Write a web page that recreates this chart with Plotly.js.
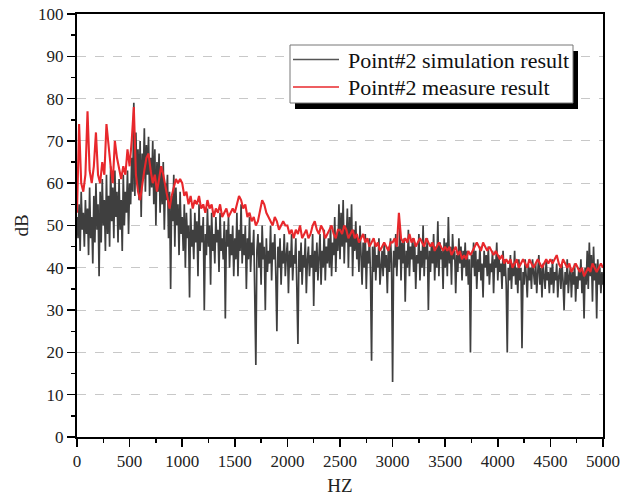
<!DOCTYPE html>
<html>
<head>
<meta charset="utf-8">
<script src="https://cdn.plot.ly/plotly-3.0.1.min.js"></script>
<style>html,body{margin:0;padding:0;background:#fff;}#chart{width:620px;height:504px;}</style>
</head>
<body>
<div id="chart"></div>
<script>
// Frequency step of the digitised samples (Hz)
const simStep = 10;
const measStep = 20;

// Point#2 simulation result (dB), 0..5000 Hz every 10 Hz
const simulation = [
  52, 47, 55, 44, 58, 49, 53, 45, 56, 48,
  54, 43, 59, 47, 52, 41, 57, 46, 60, 49,
  55, 38, 58, 46, 61, 50, 56, 44, 62, 48,
  57, 45, 64, 51, 59, 47, 63, 52, 58, 46,
  61, 49, 56, 44, 62, 50, 58, 53, 63, 48,
  60, 55, 66, 58, 79, 57, 72, 60, 68, 56,
  70, 52, 67, 61, 73, 58, 69, 62, 71, 57,
  66, 59, 70, 55, 68, 50, 65, 58, 67, 53,
  63, 55, 65, 49, 60, 56, 62, 47, 58, 35,
  57, 51, 62, 45, 59, 50, 55, 43, 58, 48,
  52, 44, 55, 40, 53, 47, 50, 33, 54, 45,
  49, 42, 53, 46, 51, 38, 55, 44, 50, 46,
  52, 30, 48, 43, 54, 45, 50, 36, 53, 44,
  48, 41, 52, 46, 49, 39, 53, 44, 47, 42,
  51, 28, 49, 45, 52, 40, 48, 43, 50, 38,
  47, 42, 53, 38, 49, 44, 55, 41, 48, 43,
  50, 35, 47, 42, 52, 39, 46, 43, 49, 33,
  17, 44, 48, 40, 46, 36, 50, 42, 45, 30,
  47, 39, 44, 41, 50, 37, 46, 42, 48, 38,
  25, 45, 40, 47, 36, 44, 41, 48, 38, 43,
  46, 34, 44, 40, 48, 37, 43, 41, 47, 35,
  22, 44, 39, 46, 36, 43, 40, 47, 34, 42,
  45, 38, 43, 40, 48, 31, 44, 39, 46, 37,
  42, 48, 36, 44, 40, 49, 37, 45, 41, 47,
  40, 50, 38, 46, 43, 52, 39, 48, 44, 55,
  42, 53, 45, 56, 41, 50, 46, 54, 40, 52,
  45, 55, 38, 49, 44, 51, 42, 47, 39, 50,
  43, 36, 46, 40, 48, 35, 44, 41, 47, 38,
  18, 45, 39, 46, 37, 43, 40, 47, 36, 42,
  44, 38, 46, 40, 43, 34, 45, 39, 47, 41,
  13, 44, 40, 48, 38, 45, 42, 50, 37, 46,
  41, 47, 32, 44, 40, 49, 38, 45, 42, 47,
  39, 46, 35, 43, 41, 48, 37, 44, 40, 50,
  38, 45, 42, 47, 30, 44, 39, 46, 41, 48,
  37, 45, 40, 51, 38, 46, 42, 44, 35, 47,
  40, 46, 38, 52, 41, 45, 36, 48, 42, 44,
  34, 43, 39, 47, 41, 45, 37, 44, 40, 46,
  38, 44, 36, 42, 20, 43, 40, 46, 38, 44,
  35, 42, 39, 45, 37, 41, 33, 44, 40, 43,
  38, 45, 36, 41, 39, 44, 34, 42, 40, 46,
  37, 43, 39, 41, 35, 44, 38, 42, 36, 20,
  40, 37, 43, 35, 41, 38, 44, 36, 40, 34,
  42, 37, 40, 21, 39, 36, 42, 38, 33, 41,
  37, 40, 35, 42, 38, 36, 41, 34, 39, 43,
  36, 40, 33, 41, 38, 35, 42, 37, 39, 34,
  40, 36, 42, 34, 39, 37, 41, 33, 38, 40,
  35, 41, 37, 30, 39, 36, 42, 34, 38, 40,
  33, 39, 36, 41, 32, 38, 35, 40, 37, 42,
  34, 39, 28, 40, 36, 44, 35, 46, 38, 43,
  32, 45, 37, 41, 28, 42, 36, 40, 34, 39,
  36
];

// Point#2 measure result (dB), 0..5000 Hz every 20 Hz
const measure = [
  53, 74, 60, 58, 62, 77, 63, 60, 64, 72, 62, 60, 65, 62, 74, 68, 64, 60, 70, 66, 63, 61, 64, 62, 68,
  64, 70, 78, 62, 58, 56, 60, 63, 66, 67, 63, 60, 62, 58, 61, 64, 62, 59, 56, 54, 57, 59, 61, 60, 61,
  60, 57, 58, 55, 57, 54, 56, 55, 57, 54, 55, 53, 56, 54, 55, 52, 54, 53, 55, 52, 53, 54, 52, 53, 54,
  53, 55, 57, 56, 54, 55, 52, 53, 51, 52, 50, 51, 54, 56, 55, 53, 52, 51, 50, 52, 51, 49, 50, 51, 50,
  50, 48, 49, 47, 49, 48, 50, 47, 48, 49, 47, 48, 50, 51, 49, 48, 50, 49, 47, 48, 49, 50, 48, 47, 49,
  49, 48, 50, 49, 47, 48, 49, 47, 48, 46, 47, 48, 46, 47, 45, 46, 47, 45, 46, 44, 45, 46, 45, 44, 46,
  46, 47, 45, 53, 47, 46, 47, 46, 48, 46, 47, 45, 46, 47, 46, 45, 47, 46, 45, 46, 44, 45, 46, 45, 44,
  45, 44, 45, 43, 44, 45, 43, 44, 42, 43, 42, 44, 43, 44, 45, 46, 45, 44, 46, 45, 44, 45, 44, 43, 44,
  43, 42, 43, 41, 42, 41, 42, 40, 41, 42, 40, 41, 42, 41, 40, 42, 41, 40, 41, 42, 41, 40, 41, 42, 41,
  42, 41, 42, 43, 41, 40, 42, 41, 40, 41, 39, 40, 41, 40, 39, 40, 38, 39, 40, 39, 41, 40, 39, 40, 41,
  40
];

const seriesNames = ['Point#2 simulation result', 'Point#2 measure result'];
const seriesColors = ['#3f3f3f', '#e8282c'];
const xTickValues = [0, 500, 1000, 1500, 2000, 2500, 3000, 3500, 4000, 4500, 5000];
const yTickValues = [0, 10, 20, 30, 40, 50, 60, 70, 80, 90, 100];

const simFreqs = simulation.map((_, i) => i * simStep);
const measFreqs = measure.map((_, i) => i * measStep);

const serif = 'Liberation Serif';

const traces = [
  {x: simFreqs, y: simulation, type: 'scatter', mode: 'lines', name: seriesNames[0],
   line: {color: seriesColors[0], width: 1.7}},
  {x: measFreqs, y: measure, type: 'scatter', mode: 'lines', name: seriesNames[1],
   line: {color: seriesColors[1], width: 2.1}}
];

// plot area in pixels (for placing the boxed legend)
const M = {l: 77, r: 17, t: 14, b: 67};
const W = 620, H = 504;
const pw = W - M.l - M.r, ph = H - M.t - M.b;
const px = p => (p - M.l) / pw;
const py = p => (H - M.b - p) / ph;

const legendShapes = [
  {type: 'rect', xref: 'paper', yref: 'paper', x0: px(295), x1: px(578), y0: py(109), y1: py(51),
   fillcolor: '#000', line: {width: 0}, layer: 'above'},
  {type: 'rect', xref: 'paper', yref: 'paper', x0: px(290), x1: px(573), y0: py(103), y1: py(45),
   fillcolor: '#fff', line: {color: '#777', width: 1}, layer: 'above'},
  {type: 'line', xref: 'paper', yref: 'paper', x0: px(293), x1: px(339), y0: py(59.5), y1: py(59.5),
   line: {color: '#555', width: 1.5}, layer: 'above'},
  {type: 'line', xref: 'paper', yref: 'paper', x0: px(293), x1: px(339), y0: py(87), y1: py(87),
   line: {color: seriesColors[1], width: 1.5}, layer: 'above'}
];
const legendTexts = [
  {xref: 'paper', yref: 'paper', x: px(346), y: py(60), xanchor: 'left', yanchor: 'middle',
   text: seriesNames[0], showarrow: false, font: {family: serif, size: 22, color: '#111'}},
  {xref: 'paper', yref: 'paper', x: px(346), y: py(87.5), xanchor: 'left', yanchor: 'middle',
   text: seriesNames[1], showarrow: false, font: {family: serif, size: 22, color: '#111'}}
];

const axisCommon = {
  showline: true, linecolor: '#000', linewidth: 2, mirror: true,
  ticks: 'outside', ticklen: 8, tickwidth: 1.5, tickcolor: '#000',
  tickfont: {family: serif, size: 17, color: '#222'},
  zeroline: false
};

const layout = {
  width: W, height: H,
  font: {family: serif, color: '#222'},
  margin: M,
  paper_bgcolor: '#fff', plot_bgcolor: '#fff',
  showlegend: false,
  shapes: legendShapes,
  annotations: legendTexts,
  xaxis: Object.assign({}, axisCommon, {
    range: [0, 5000], tickvals: xTickValues, showgrid: false,
    minor: {dtick: 250, ticks: 'outside', ticklen: 4, tickcolor: '#000', tickwidth: 1.5, showgrid: false},
    title: {text: 'HZ', font: {family: serif, size: 19, color: '#222'}, standoff: 8}
  }),
  yaxis: Object.assign({}, axisCommon, {
    range: [0, 100], tickvals: yTickValues, showgrid: true,
    gridcolor: '#c8c8c8', griddash: 'dash', gridwidth: 1,
    minor: {dtick: 5, ticks: 'outside', ticklen: 4, tickcolor: '#000', tickwidth: 1.5, showgrid: false},
    title: {text: 'dB', font: {family: serif, size: 19, color: '#222'}, standoff: 4}
  })
};

Plotly.newPlot('chart', traces, layout, {displayModeBar: false, staticPlot: true});
</script>
</body>
</html>
